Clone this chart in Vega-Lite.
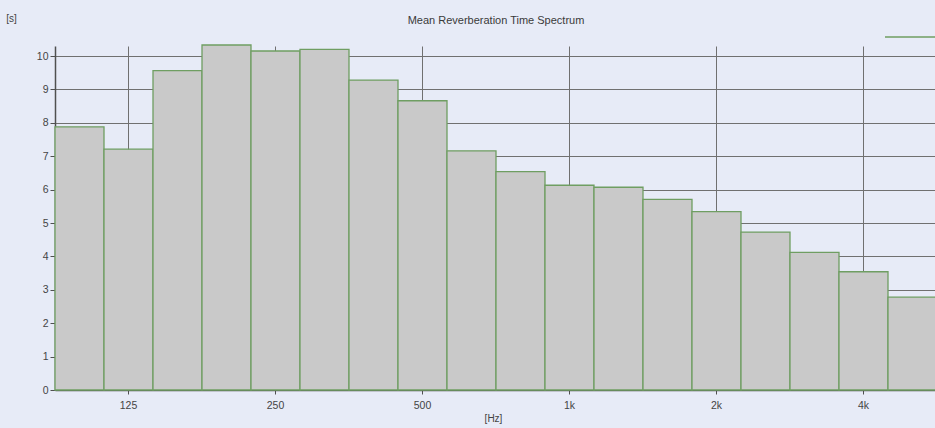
{
  "$schema": "https://vega.github.io/schema/vega-lite/v6.json",
  "autosize": "none",
  "width": 882,
  "height": 344,
  "padding": {"left": 55, "top": 46, "right": 0, "bottom": 38},
  "background": "#e7ebf7",
  "title": {"text": "Mean Reverberation Time Spectrum", "fontSize": 11, "fontWeight": "normal", "font": "Liberation Sans", "color": "#3a3a3a", "anchor": "middle", "offset": -15},
  "config": {"view": {"stroke": null}},
  "data": {"values": [
    {"band": "100", "rt": 7.88, "series": "Mean"},
    {"band": "125", "rt": 7.21, "series": "Mean"},
    {"band": "160", "rt": 9.56, "series": "Mean"},
    {"band": "200", "rt": 10.33, "series": "Mean"},
    {"band": "250", "rt": 10.15, "series": "Mean"},
    {"band": "315", "rt": 10.2, "series": "Mean"},
    {"band": "400", "rt": 9.28, "series": "Mean"},
    {"band": "500", "rt": 8.66, "series": "Mean"},
    {"band": "630", "rt": 7.16, "series": "Mean"},
    {"band": "800", "rt": 6.54, "series": "Mean"},
    {"band": "1k", "rt": 6.13, "series": "Mean"},
    {"band": "1.25k", "rt": 6.07, "series": "Mean"},
    {"band": "1.6k", "rt": 5.71, "series": "Mean"},
    {"band": "2k", "rt": 5.34, "series": "Mean"},
    {"band": "2.5k", "rt": 4.73, "series": "Mean"},
    {"band": "3.15k", "rt": 4.12, "series": "Mean"},
    {"band": "4k", "rt": 3.54, "series": "Mean"},
    {"band": "5k", "rt": 2.78, "series": "Mean"}
  ]},
  "mark": {"type": "bar", "fill": "#c9c9c9", "strokeWidth": 1.3},
  "encoding": {
    "x": {
      "field": "band", "type": "ordinal", "sort": null,
      "scale": {"paddingInner": 0, "paddingOuter": 0},
      "axis": {
        "values": ["125", "250", "500", "1k", "2k", "4k"],
        "labelAngle": 0, "grid": true, "gridColor": "#707070", "gridWidth": 1, "gridOpacity": 1,
        "bandPosition": 0.5,
        "domainColor": "#505050", "domainWidth": 1.5,
        "tickColor": "#505050", "tickSize": 4,
        "labelFont": "Liberation Sans", "labelFontSize": 10.5, "labelColor": "#444444", "labelPadding": 6,
        "title": "[Hz]", "titleFont": "Liberation Sans", "titleFontSize": 10, "titleFontWeight": "normal", "titleColor": "#444444", "titlePadding": 3,
        "titleX": 438
      }
    },
    "y": {
      "field": "rt", "type": "quantitative",
      "scale": {"domain": [0, 10.3], "nice": false},
      "axis": {
        "values": [0, 1, 2, 3, 4, 5, 6, 7, 8, 9, 10],
        "grid": true, "gridColor": "#707070", "gridWidth": 1, "gridOpacity": 1,
        "domainColor": "#505050", "domainWidth": 1.5,
        "tickColor": "#505050", "tickSize": 5,
        "labelFont": "Liberation Sans", "labelFontSize": 10.5, "labelColor": "#444444", "labelPadding": 2,
        "title": "[s]", "titleAngle": 0, "titleX": -44, "titleY": -28, "titleAlign": "center", "titleBaseline": "middle",
        "titleFont": "Liberation Sans", "titleFontSize": 10, "titleFontWeight": "normal", "titleColor": "#444444"
      }
    },
    "stroke": {
      "field": "series", "type": "nominal",
      "scale": {"range": ["#6f9e62"]},
      "legend": {
        "orient": "none", "legendX": 829, "legendY": -35, "title": null,
        "symbolType": "stroke", "symbolSize": 2500, "symbolStrokeWidth": 1.5,
        "labelExpr": "''", "labelFontSize": 1, "labelLimit": 1, "padding": 0
      }
    }
  }
}
